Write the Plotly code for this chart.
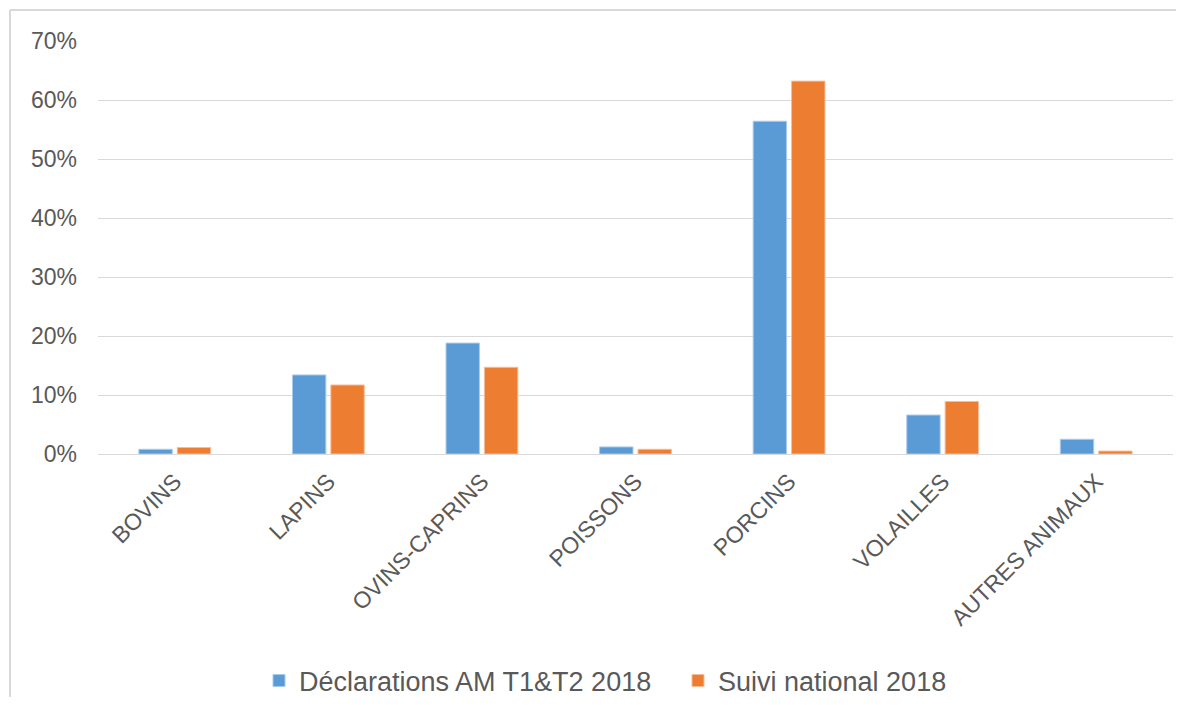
import plotly.graph_objects as go

categories = ["BOVINS", "LAPINS", "OVINS-CAPRINS", "POISSONS", "PORCINS", "VOLAILLES", "AUTRES ANIMAUX"]
decl_am = [0.8, 13.4, 18.8, 1.2, 56.4, 6.6, 2.5]
suivi_nat = [1.1, 11.7, 14.7, 0.8, 63.2, 8.9, 0.5]
series_names = ["Déclarations AM T1&T2 2018", "Suivi national 2018"]
y_ticks = [0, 10, 20, 30, 40, 50, 60, 70]
y_tick_labels = [f"{v}%" for v in y_ticks]

# page offsets the figure by 8px (body margin); work in screen pixels
OFF = 8
W, H = 1184 - 2 * OFF, 705 - 2 * OFF
L, R, T, B = 98 - OFF, W - (1173 - OFF), 41 - OFF, H - (454 - OFF)
pw, ph = W - L - R, H - T - B

def px_x(x):
    return (x - OFF - L) / pw

def px_y(y):
    return (H - B - (y - OFF)) / ph

fig = go.Figure()
fig.add_trace(go.Bar(x=categories, y=decl_am, name=series_names[0],
                     marker=dict(color="#5B9BD5", line=dict(color="#A9CBEB", width=1))))
fig.add_trace(go.Bar(x=categories, y=suivi_nat, name=series_names[1],
                     marker=dict(color="#ED7D31", line=dict(color="#F6BE98", width=1))))

font_color = "#595959"
border = dict(color="#D9D9D9", width=2)
fig.update_layout(
    width=W, height=H,
    margin=dict(l=L, r=R, t=T, b=B, autoexpand=False),
    paper_bgcolor="white", plot_bgcolor="white",
    barmode="group", bargap=0.5, bargroupgap=0.13,
    font=dict(family="Liberation Sans, Arial, sans-serif", color=font_color, size=23),
    showlegend=True,
    legend=dict(orientation="h", x=px_x(259), xanchor="left", y=px_y(681), yanchor="middle",
                font=dict(size=27, color=font_color), traceorder="normal",
                entrywidth=374, entrywidthmode="pixels"),
    xaxis=dict(tickangle=-45, showgrid=False, showline=True, linecolor="#D9D9D9", linewidth=1,
               ticks="", tickfont=dict(size=23, color=font_color), ticklabelstandoff=4),
    yaxis=dict(range=[0, 70], tickvals=y_ticks, ticktext=y_tick_labels, showgrid=True,
               gridcolor="#D9D9D9", gridwidth=1, zeroline=False, showline=False, ticks="",
               tickfont=dict(size=23, color=font_color), ticklabelstandoff=20),
    shapes=[
        dict(type="line", xref="paper", yref="paper",
             x0=px_x(10), x1=px_x(1300), y0=px_y(10), y1=px_y(10), line=border, layer="below"),
        dict(type="line", xref="paper", yref="paper",
             x0=px_x(10), x1=px_x(10), y0=px_y(10), y1=px_y(800), line=border, layer="below"),
    ],
)

fig.write_html("out.html")
